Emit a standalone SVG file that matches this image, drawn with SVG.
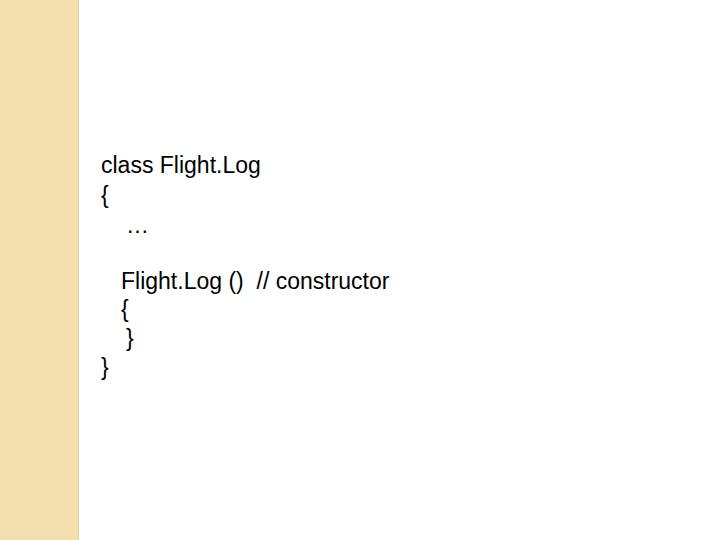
<svg xmlns="http://www.w3.org/2000/svg" width="720" height="540" viewBox="0 0 720 540">
<style>text{font-family:"Liberation Sans",Arial,sans-serif;font-size:23px;fill:#000;white-space:pre}</style>
<rect width="720" height="540" fill="#fff"/>
<rect width="78" height="540" fill="#f3dfae"/>
<rect x="78" width="1" height="540" fill="#e8d4a0"/>
<g id="code">
<text x="101" y="173">class Flight.Log</text>
<text x="101" y="203">{</text>
<text x="126" y="233">…</text>
<text x="121" y="289" xml:space="preserve">Flight.Log ()  // constructor</text>
<text x="121" y="317">{</text>
<text x="126" y="346">}</text>
<text x="101" y="375">}</text>
</g>
</svg>
